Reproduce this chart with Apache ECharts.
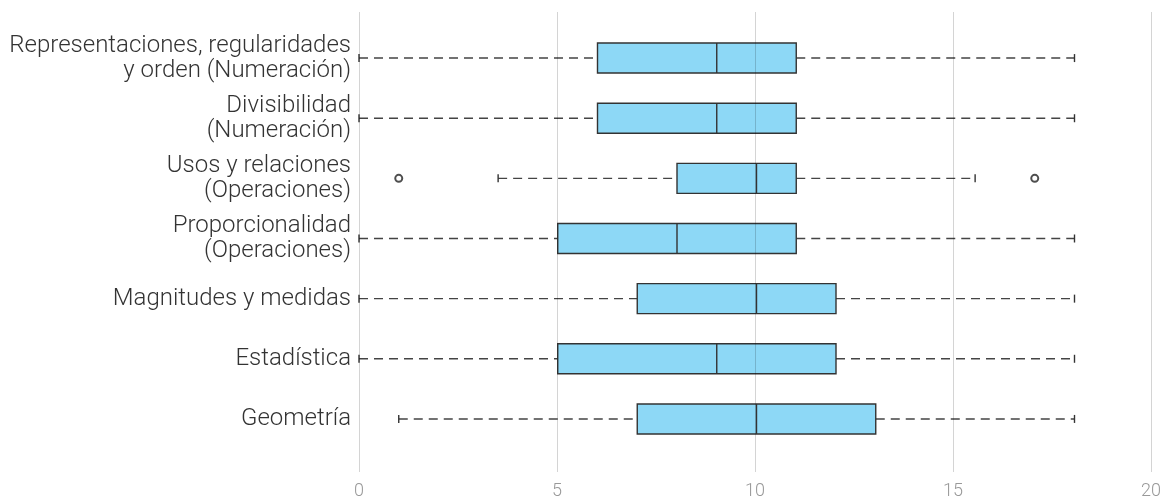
<!DOCTYPE html>
<html>
<head>
<meta charset="utf-8">
<script src="https://cdn.jsdelivr.net/npm/echarts@6/dist/echarts.min.js"></script>
<style>html,body{margin:0;padding:0;background:#fff;}#chart{width:1164px;height:500px;}</style>
</head>
<body>
<div id="chart"></div>
<script>
const categories = [
  "Representaciones, regularidades\ny orden (Numeración)",
  "Divisibilidad\n(Numeración)",
  "Usos y relaciones\n(Operaciones)",
  "Proporcionalidad\n(Operaciones)",
  "Magnitudes y medidas",
  "Estadística",
  "Geometría"
];
const whiskerLow = [0, 0, 3.5, 0, 0, 0, 1];
const q1 = [6, 6, 8, 5, 7, 5, 7];
const medians = [9, 9, 10, 8, 10, 9, 10];
const q3 = [11, 11, 11, 11, 12, 12, 13];
const whiskerHigh = [18, 18, 15.5, 18, 18, 18, 18];
const outlierValues = [1, 17];
const outlierCategory = [2, 2];
const xTicks = [0, 5, 10, 15, 20];

const boxData = categories.map((c, i) => [i, whiskerLow[i], q1[i], medians[i], q3[i], whiskerHigh[i]]);
const outlierData = outlierValues.map((v, i) => [v, outlierCategory[i]]);

const FONT = 'Roboto';
const chart = echarts.init(document.getElementById('chart'));

function renderItem(params, api) {
  const ci = api.value(0);
  const lo = api.coord([api.value(1), ci]);
  const a = api.coord([api.value(2), ci]);
  const m = api.coord([api.value(3), ci]);
  const b = api.coord([api.value(4), ci]);
  const hi = api.coord([api.value(5), ci]);
  const y = lo[1];
  const h = 30;
  const cap = 4;
  const wStyle = { stroke: '#444', lineWidth: 1.4, lineDash: [9, 6] };
  const capStyle = { stroke: '#333', lineWidth: 1.4 };
  const boxStyle = { fill: '#8dd8f6', stroke: '#333', lineWidth: 1.4 };
  return {
    type: 'group',
    children: [
      { type: 'line', shape: { x1: lo[0], y1: y, x2: a[0], y2: y }, style: wStyle },
      { type: 'line', shape: { x1: b[0], y1: y, x2: hi[0], y2: y }, style: wStyle },
      { type: 'line', shape: { x1: lo[0], y1: y - cap, x2: lo[0], y2: y + cap }, style: capStyle },
      { type: 'line', shape: { x1: hi[0], y1: y - cap, x2: hi[0], y2: y + cap }, style: capStyle },
      { type: 'rect', shape: { x: a[0], y: y - h / 2, width: b[0] - a[0], height: h }, style: boxStyle },
      { type: 'line', shape: { x1: m[0], y1: y - h / 2, x2: m[0], y2: y + h / 2 }, style: capStyle }
    ]
  };
}

chart.setOption({
  animation: false,
  backgroundColor: '#fff',
  grid: [
    { left: 359, right: 10, top: 28, bottom: 51 },
    { left: 359, right: 10, top: 12, bottom: 27 }
  ],
  xAxis: [
    { type: 'value', gridIndex: 0, min: 0, max: 20, show: false },
    {
      type: 'value', gridIndex: 1, min: 0, max: 20, interval: 5, z: 10,
      axisLine: { show: false }, axisTick: { show: false },
      splitLine: { show: true, lineStyle: { color: 'rgba(0,0,0,0.17)', width: 1 } },
      axisLabel: { color: '#999', fontFamily: FONT, fontWeight: 300, fontSize: 18, margin: 10,
        formatter: v => xTicks.includes(v) ? String(v) : '' }
    }
  ],
  yAxis: [
    {
      type: 'category', gridIndex: 0, inverse: true, data: categories,
      axisLine: { show: false }, axisTick: { show: false }, splitLine: { show: false },
      axisLabel: { color: '#333', fontFamily: FONT, fontWeight: 300, fontSize: 24, lineHeight: 25, margin: 8, align: 'right' }
    },
    { type: 'value', gridIndex: 1, show: false, min: 0, max: 1 }
  ],
  series: [
    {
      type: 'custom', xAxisIndex: 0, yAxisIndex: 0, z: 2,
      renderItem: renderItem,
      encode: { y: 0, x: [1, 2, 3, 4, 5] },
      data: boxData
    },
    {
      type: 'scatter', xAxisIndex: 0, yAxisIndex: 0, z: 3,
      symbol: 'emptyCircle', symbolSize: 7,
      itemStyle: { color: '#222', borderColor: '#222', borderWidth: 1.5 },
      data: outlierData
    }
  ]
});
</script>
</body>
</html>
